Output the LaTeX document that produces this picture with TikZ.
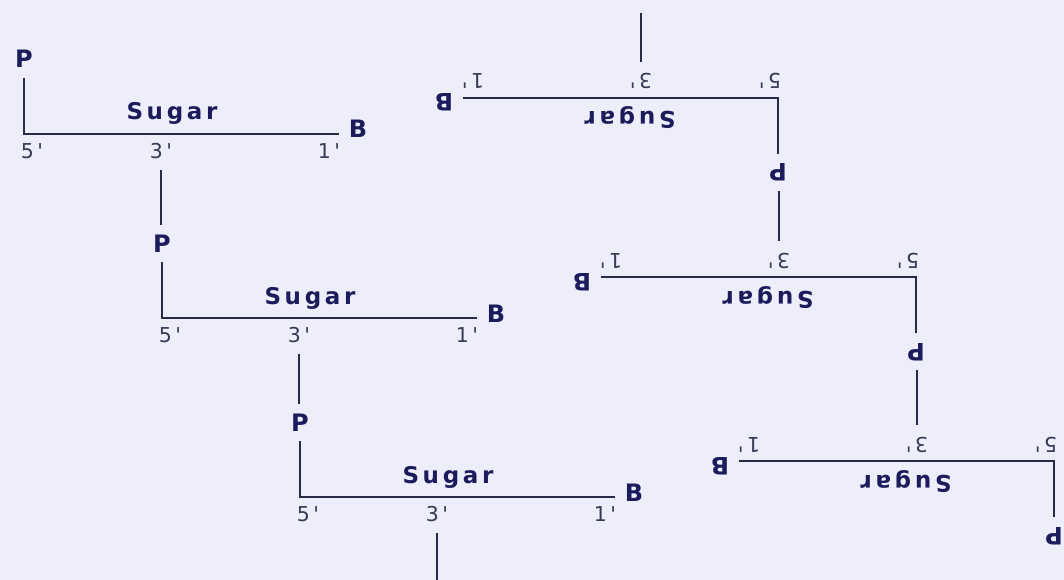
\documentclass[tikz,border=0pt]{standalone}
\usepackage{fontspec}
\newfontfamily\labfont{DejaVu Sans}
\newfontfamily\sugarfont{DejaVu Sans}[LetterSpace=16]
\newfontfamily\numfont{DejaVu Sans}
\definecolor{bg}{HTML}{EEEEFA}
\definecolor{ink}{HTML}{1C1C5C}
\definecolor{bondc}{HTML}{2A2A48}
\definecolor{numc}{HTML}{3A3A56}
\tikzset{
  lab/.style={inner sep=0pt, outer sep=10pt, text=ink, font=\labfont\bfseries\fontsize{24}{24}\selectfont, anchor=base},
  sug/.style={inner sep=0pt, text=ink, font=\sugarfont\bfseries\fontsize{23}{23}\selectfont, anchor=base},
  num/.style={inner sep=0pt, outer sep=12pt, text=numc, font=\numfont\fontsize{20.5}{20.5}\selectfont, anchor=base},
  bond/.style={draw=bondc, line width=2pt},
}
\newcommand\strand[1]{%
  \foreach \i/\cx/\cy in {1/24/134,2/162/318,3/300/497}{%
    \coordinate (#1C\i) at (\cx,\cy);
    \node[lab] (#1P\i) at (\cx,\cy-66) {P};
    \node[sug] (#1S\i) at (\cx+148,\cy-14) {Sugar};
    \node[lab] (#1B\i) at (\cx+334,\cy+4) {B};
    \node[num] (#1F\i) at (\cx+8,\cy+24) {5\,\textquotesingle};
    \node[num] (#1T\i) at (\cx+137,\cy+24) {3\,\textquotesingle};
    \node[num] (#1O\i) at (\cx+305,\cy+24) {1\,\textquotesingle};
    \draw[bond] (#1P\i.south) |- (#1C\i) -- (#1C\i -| #1B\i.west);
  }
  \draw[bond] (#1T1.south) -- (#1T1.south |- #1P2.north);
  \draw[bond] (#1T2.south) -- (#1T2.south |- #1P3.north);
  \coordinate (#1E) at (436,582);
  \draw[bond] (#1T3.south) -- (#1T3.south |- #1E);
}
\begin{document}
\begin{tikzpicture}[x=1pt,y=-1pt]
\useasboundingbox[fill=bg] (0,0) rectangle (1064,580);
\strand{L}
\begin{scope}[rotate around={180:(539,297.5)}, transform shape]
\strand{R}
\end{scope}
\end{tikzpicture}
\end{document}
